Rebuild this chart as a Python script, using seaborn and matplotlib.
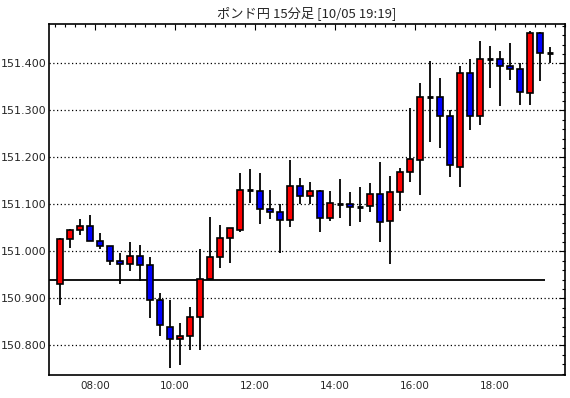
import matplotlib
matplotlib.use("Agg")
import matplotlib.pyplot as plt
from matplotlib.ticker import MultipleLocator, FixedLocator, FuncFormatter
import seaborn as sns
import pandas as pd

# 15-minute candles, 07:00 - 19:15
times = ["07:00", "07:15", "07:30", "07:45", "08:00", "08:15", "08:30", "08:45",
         "09:00", "09:15", "09:30", "09:45", "10:00", "10:15", "10:30", "10:45",
         "11:00", "11:15", "11:30", "11:45", "12:00", "12:15", "12:30", "12:45",
         "13:00", "13:15", "13:30", "13:45", "14:00", "14:15", "14:30", "14:45",
         "15:00", "15:15", "15:30", "15:45", "16:00", "16:15", "16:30", "16:45",
         "17:00", "17:15", "17:30", "17:45", "18:00", "18:15", "18:30", "18:45",
         "19:00", "19:15"]
opens = [150.930, 151.026, 151.045, 151.054, 151.023, 151.011, 150.979, 150.974,
         150.991, 150.970, 150.896, 150.840, 150.813, 150.821, 150.860, 150.942,
         150.987, 151.028, 151.045, 151.130, 151.128, 151.091, 151.083, 151.066,
         151.140, 151.117, 151.128, 151.072, 151.101, 151.100, 151.094, 151.096,
         151.121, 151.064, 151.126, 151.168, 151.194, 151.328, 151.328, 151.287,
         151.179, 151.379, 151.289, 151.409, 151.409, 151.394, 151.387, 151.336,
         151.464, 151.421]
highs = [151.028, 151.047, 151.069, 151.077, 151.039, 151.011, 150.996, 151.019,
         151.013, 150.987, 150.911, 150.896, 150.847, 150.881, 151.006, 151.074,
         151.056, 151.049, 151.167, 151.175, 151.167, 151.130, 151.100, 151.194,
         151.157, 151.147, 151.130, 151.128, 151.154, 151.126, 151.136, 151.145,
         151.191, 151.160, 151.177, 151.304, 151.358, 151.404, 151.369, 151.301,
         151.394, 151.409, 151.447, 151.437, 151.426, 151.443, 151.400, 151.468,
         151.466, 151.435]
lows = [150.885, 151.008, 151.035, 151.023, 151.006, 150.971, 150.930, 150.959,
        150.936, 150.859, 150.820, 150.751, 150.759, 150.791, 150.791, 150.942,
        150.965, 150.976, 151.042, 151.103, 151.059, 151.069, 150.996, 151.052,
        151.100, 151.100, 151.042, 151.065, 151.071, 151.054, 151.063, 151.084,
        151.020, 150.974, 151.086, 151.147, 151.119, 151.233, 151.220, 151.159,
        151.137, 151.259, 151.269, 151.348, 151.310, 151.365, 151.312, 151.312,
        151.363, 151.400]
closes = [151.026, 151.045, 151.054, 151.023, 151.011, 150.979, 150.974, 150.991,
          150.970, 150.896, 150.843, 150.813, 150.821, 150.860, 150.942, 150.987,
          151.028, 151.049, 151.130, 151.129, 151.091, 151.083, 151.066, 151.140,
          151.117, 151.128, 151.072, 151.102, 151.101, 151.094, 151.094, 151.121,
          151.062, 151.126, 151.168, 151.196, 151.328, 151.328, 151.289, 151.183,
          151.379, 151.289, 151.409, 151.410, 151.394, 151.387, 151.338, 151.464,
          151.421, 151.420]
ref_level = 150.940
ref_end = "19:15"
title = "ポンド円 15分足 [10/05 19:19]"
hour_labels = ["08:00", "10:00", "12:00", "14:00", "16:00", "18:00"]


def to_min(t):
    h, m = t.split(":")
    return int(h) * 60 + int(m)


df = pd.DataFrame({"time": times, "open": opens, "high": highs,
                   "low": lows, "close": closes})
df["x"] = df["time"].map(to_min) + 7.5
df["up"] = df["close"] >= df["open"]
df["doji"] = (df["close"] - df["open"]).abs() < 0.002

sns.set_style("white")
plt.rcParams["font.family"] = ["Noto Sans CJK JP", "DejaVu Sans"]

fig = plt.figure(figsize=(5.7, 3.98), dpi=100)
ax = fig.add_axes([49 / 570, 23 / 398, 516 / 570, 350.7 / 398])

# wicks
ax.vlines(df["x"], df["low"], df["high"], color="black", lw=1.3, zorder=2)

# bodies
body = df[~df["doji"]]
ax.bar(body["x"], (body["close"] - body["open"]).abs(),
       bottom=body[["open", "close"]].min(axis=1), width=10,
       color=["#ff0000" if u else "#0000ff" for u in body["up"]],
       edgecolor="black", linewidth=1.2, zorder=3)

# doji
dj = df[df["doji"]]
ax.hlines(dj["open"], dj["x"] - 5, dj["x"] + 5, color="black", lw=2, zorder=3)

ax.set_xlim(411, 1185)
ax.set_ylim(150.737, 151.483)

ax.hlines(ref_level, 411, to_min(ref_end), color="black", lw=1.3, zorder=1)

ax.yaxis.set_major_locator(MultipleLocator(0.1))
ax.yaxis.set_minor_locator(MultipleLocator(0.02))
ax.yaxis.set_major_formatter(FuncFormatter(lambda v, p: f"{v:.3f}"))
ax.xaxis.set_major_locator(FixedLocator([to_min(t) for t in hour_labels]))
ax.xaxis.set_minor_locator(MultipleLocator(15))
ax.set_xticklabels(hour_labels)

ax.grid(axis="y", which="major", color="black", linestyle=(0, (1, 2)), lw=0.9)
ax.tick_params(which="both", direction="in", top=True, right=True,
               color="black", width=0.8)
ax.tick_params(which="major", length=4)
ax.tick_params(which="minor", length=2.5)
ax.tick_params(axis="y", labelsize=8, pad=2)
ax.tick_params(axis="x", labelsize=7.5, pad=4)
for lbl in ax.get_xticklabels() + ax.get_yticklabels():
    lbl.set_family("DejaVu Sans")
for s in ax.spines.values():
    s.set_color("black")
    s.set_linewidth(1.2)

ax.set_title(title, fontsize=9.5, pad=5)

fig.savefig("out.png", dpi=100)
